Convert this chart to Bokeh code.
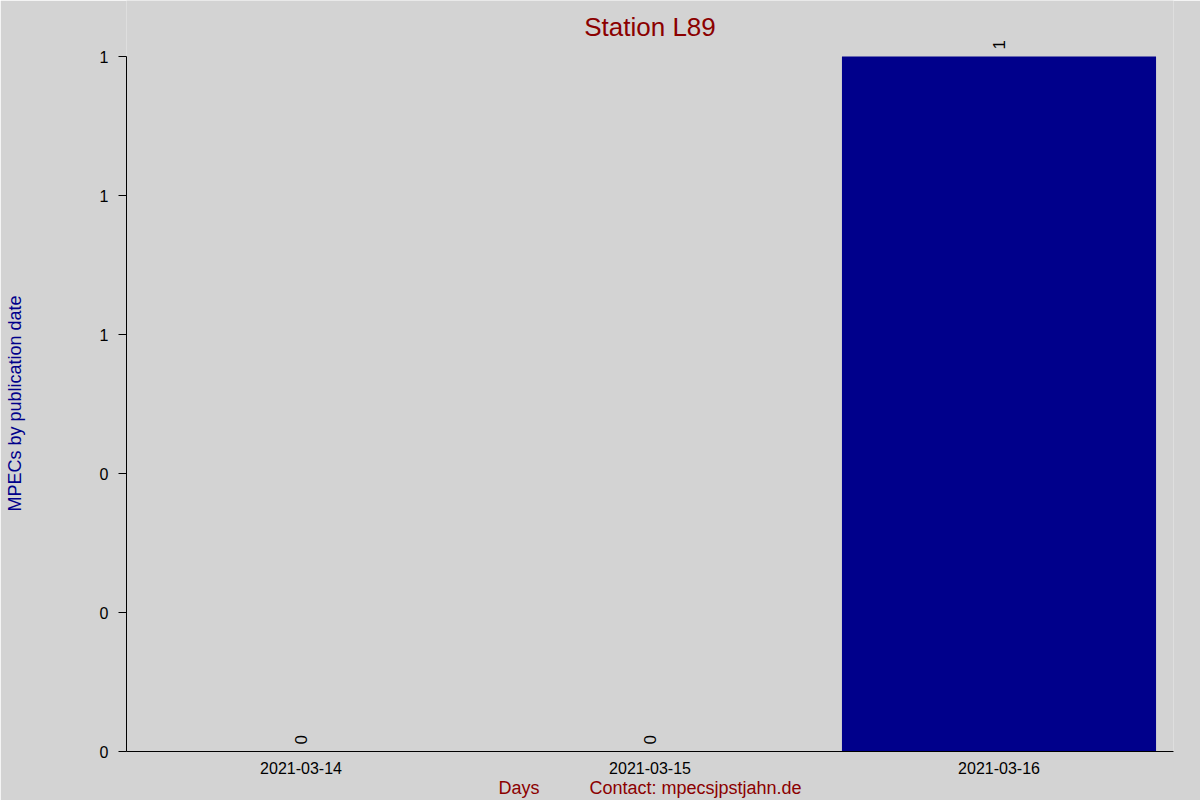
import math
from bokeh.plotting import figure
from bokeh.models import ColumnDataSource, Range1d, FactorRange, Label, FixedTicker, CustomJSTickFormatter
from bokeh.core.properties import value
from bokeh.embed import file_html
from bokeh.resources import INLINE

# ---- data ----
days = ["2021-03-14", "2021-03-15", "2021-03-16"]
counts = [0, 0, 1]
y_ticks = [0, 0.2, 0.4, 0.6, 0.8, 1.0]

title_text = "Station L89"
y_label = "MPECs by publication date"
x_label = "Days"
contact_text = "Contact: mpecsjpstjahn.de"

FONT = "Liberation Sans"
BG = "#d3d3d3"
DARKRED = "#8b0000"
DARKBLUE = "#00008b"

src = ColumnDataSource(dict(day=days, count=counts, label=[str(c) for c in counts]))

ymax = max(counts)
# frame reaches the top of the canvas; the axis itself is bounded to [0, ymax]
p = figure(output_backend="svg", toolbar_location=None,
           x_range=FactorRange(factors=days, range_padding=0),
           y_range=Range1d(0, ymax * 751 / 695),
           min_border_left=126, min_border_right=27, min_border_top=0, min_border_bottom=49)
p.frame_width = 1047
p.frame_height = 751
p.title = None

p.background_fill_color = BG
p.border_fill_color = BG
p.outline_line_color = None
p.xgrid.grid_line_color = None
p.ygrid.grid_line_color = None

p.vbar(x="day", top="count", width=0.9, source=src, fill_color=DARKBLUE, line_color=None)

p.text(x="day", y="count", text="label", source=src, angle=math.pi / 2,
       text_align="left", text_baseline="middle", y_offset=-7,
       text_font=value(FONT), text_font_size="17px", text_color="black")

# y axis
ya = p.yaxis[0]
ya.bounds = (0, ymax)
ya.ticker = FixedTicker(ticks=y_ticks)
ya.formatter = CustomJSTickFormatter(code="return Math.round(tick).toFixed(0);")
ya.major_tick_out = 8
ya.major_tick_in = 0
ya.minor_tick_line_color = None
ya.axis_line_color = "black"
ya.major_tick_line_color = "black"
ya.major_label_text_font = FONT
ya.major_label_text_font_size = "16px"
ya.major_label_text_color = "black"
ya.major_label_standoff = 10
# trailing no-break spaces centre the label on the bounded axis rather than the tall frame
ya.axis_label = y_label + "\u00a0" * 11
ya.axis_label_text_font = FONT
ya.axis_label_text_font_size = "18px"
ya.axis_label_text_font_style = "normal"
ya.axis_label_text_color = DARKBLUE
ya.axis_label_standoff = 72

# x axis
xa = p.xaxis[0]
xa.major_tick_line_color = None
xa.minor_tick_line_color = None
xa.axis_line_color = "black"
xa.major_label_text_font = FONT
xa.major_label_text_font_size = "16px"
xa.major_label_text_color = "black"
xa.major_label_standoff = 4
xa.axis_label = x_label + "\u00a0" * 10 + contact_text
xa.axis_label_text_font = FONT
xa.axis_label_text_font_size = "18px"
xa.axis_label_text_font_style = "normal"
xa.axis_label_text_color = DARKRED
xa.axis_label_standoff = 1

# title inside the (tall) frame, above the axis bounds
p.add_layout(Label(x=523.5, y=725, x_units="screen", y_units="screen", text=title_text,
                   text_align="center", text_baseline="alphabetic",
                   text_font=FONT, text_font_size="26px", text_color=DARKRED))

open("out.html", "w").write(file_html(p, INLINE))
